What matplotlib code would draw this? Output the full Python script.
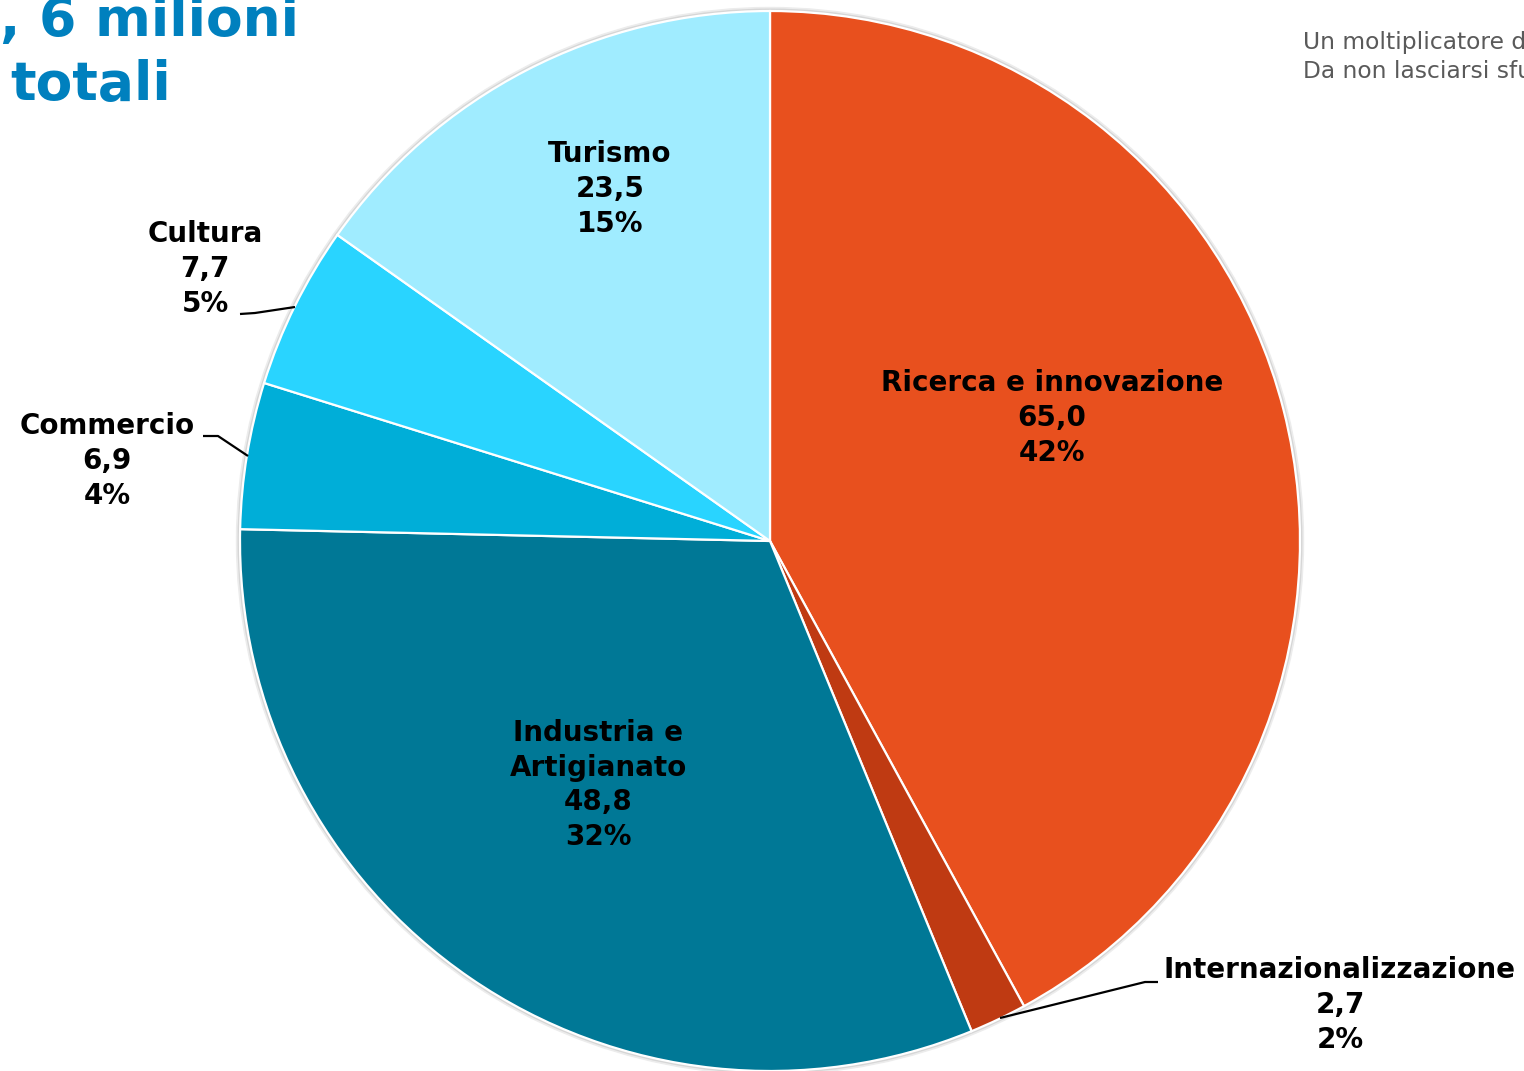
import matplotlib
matplotlib.use("Agg")
import matplotlib.pyplot as plt
from matplotlib.patches import Circle

# ---- data ----
categories = ["Ricerca e innovazione", "Internazionalizzazione", "Industria e\nArtigianato",
              "Commercio", "Cultura", "Turismo"]
values = [65.0, 2.7, 48.8, 6.9, 7.7, 23.5]
value_labels = ["65,0", "2,7", "48,8", "6,9", "7,7", "23,5"]
pct_labels = ["42%", "2%", "32%", "4%", "5%", "15%"]
colors = ["#E8501E", "#BF3A12", "#007896", "#00AED8", "#29D4FF", "#A0ECFF"]

title_lines = [", 6 milioni", "totali"]
side_lines = ["Un moltiplicatore d", "Da non lasciarsi sfu"]

# ---- layout (pixel coordinates, y downward) ----
W, H = 1524, 1071
center = (770, 541)
radius = 530
label_pos = [(1052, 418), (1340, 1005), (598, 785), (107, 461), (205, 269), (610, 189)]
leaders = {
    1: [(1000, 1018), (1145, 982), (1158, 982)],
    3: [(248, 456), (218, 436), (203, 436)],
    4: [(295, 307), (255, 313), (240, 314)],
}

fig = plt.figure(figsize=(W / 100, H / 100), dpi=100)
ax = fig.add_axes([0, 0, 1, 1])

# subtle shadow behind the pie
ax.add_patch(Circle(center, radius + 3.5, color="#ececec", zorder=0))
ax.add_patch(Circle(center, radius + 1.8, color="#d6d6d6", zorder=0))

ax.pie(values, colors=colors, startangle=-90, counterclock=True,
       center=center, radius=radius,
       wedgeprops=dict(edgecolor="white", linewidth=1.6), frame=True)

ax.set_xlim(0, W)
ax.set_ylim(H, 0)
ax.set_aspect("equal")
ax.axis("off")

font = dict(family="DejaVu Sans", fontweight="bold", fontsize=20, color="black")
for i, (cat, v, p) in enumerate(zip(categories, value_labels, pct_labels)):
    x, y = label_pos[i]
    ax.text(x, y, f"{cat}\n{v}\n{p}", ha="center", va="center",
            linespacing=1.3, zorder=5, **font)

for pts in leaders.values():
    xs, ys = zip(*pts)
    ax.plot(xs, ys, color="black", lw=1.6, zorder=4, solid_capstyle="butt")

# title fragment (top-left)
ax.text(0, 21, title_lines[0], ha="left", va="center", fontsize=38.5,
        fontweight="bold", color="#0080BE", family="DejaVu Sans")
ax.text(10, 85, title_lines[1], ha="left", va="center", fontsize=38.5,
        fontweight="bold", color="#0080BE", family="DejaVu Sans")

# side text (top-right, cut by the edge as in the reference)
ax.text(1303, 43, side_lines[0], ha="left", va="center", fontsize=16.8,
        color="#5a5a5a", family="DejaVu Sans")
ax.text(1303, 71, side_lines[1], ha="left", va="center", fontsize=16.8,
        color="#5a5a5a", family="DejaVu Sans")

fig.savefig("out.png", dpi=100, facecolor="white")
